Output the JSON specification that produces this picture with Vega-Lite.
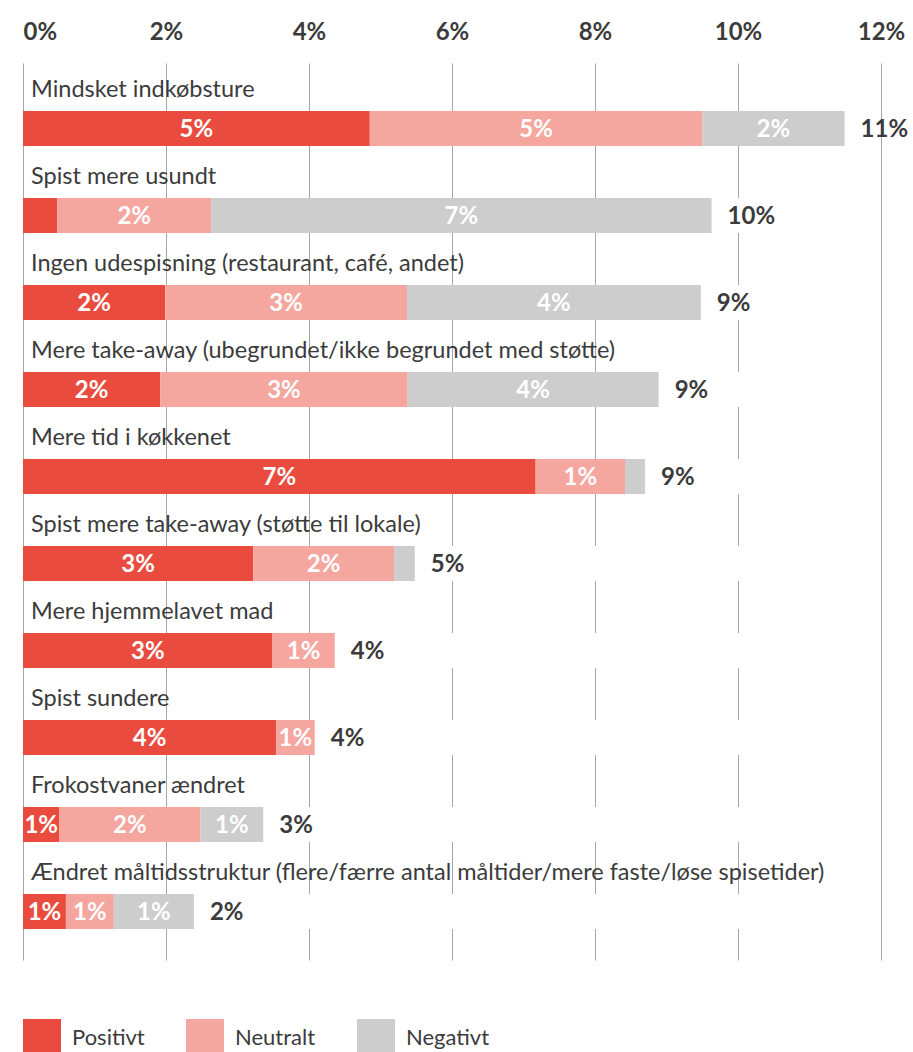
{
  "$schema": "https://vega.github.io/schema/vega-lite/v6.json",
  "autosize": "none",
  "width": 858,
  "height": 897,
  "padding": {"left": 23, "top": 63, "right": 32, "bottom": 92},
  "background": "white",
  "config": {"view": {"stroke": null}, "font": "Lato"},
  "data": {
    "values": [
      {"category": "Mindsket indkøbsture", "type": "Positivt", "order": 1, "value": 0.0485},
      {"category": "Mindsket indkøbsture", "type": "Neutralt", "order": 2, "value": 0.0465},
      {"category": "Mindsket indkøbsture", "type": "Negativt", "order": 3, "value": 0.0199},
      {"category": "Spist mere usundt", "type": "Positivt", "order": 1, "value": 0.0048},
      {"category": "Spist mere usundt", "type": "Neutralt", "order": 2, "value": 0.0215},
      {"category": "Spist mere usundt", "type": "Negativt", "order": 3, "value": 0.07},
      {"category": "Ingen udespisning (restaurant, café, andet)", "type": "Positivt", "order": 1, "value": 0.0199},
      {"category": "Ingen udespisning (restaurant, café, andet)", "type": "Neutralt", "order": 2, "value": 0.0338},
      {"category": "Ingen udespisning (restaurant, café, andet)", "type": "Negativt", "order": 3, "value": 0.0411},
      {"category": "Mere take-away (ubegrundet/ikke begrundet med støtte)", "type": "Positivt", "order": 1, "value": 0.0192},
      {"category": "Mere take-away (ubegrundet/ikke begrundet med støtte)", "type": "Neutralt", "order": 2, "value": 0.0346},
      {"category": "Mere take-away (ubegrundet/ikke begrundet med støtte)", "type": "Negativt", "order": 3, "value": 0.0351},
      {"category": "Mere tid i køkkenet", "type": "Positivt", "order": 1, "value": 0.0717},
      {"category": "Mere tid i køkkenet", "type": "Neutralt", "order": 2, "value": 0.0125},
      {"category": "Mere tid i køkkenet", "type": "Negativt", "order": 3, "value": 0.0028},
      {"category": "Spist mere take-away (støtte til lokale)", "type": "Positivt", "order": 1, "value": 0.0322},
      {"category": "Spist mere take-away (støtte til lokale)", "type": "Neutralt", "order": 2, "value": 0.0197},
      {"category": "Spist mere take-away (støtte til lokale)", "type": "Negativt", "order": 3, "value": 0.0029},
      {"category": "Mere hjemmelavet mad", "type": "Positivt", "order": 1, "value": 0.0349},
      {"category": "Mere hjemmelavet mad", "type": "Neutralt", "order": 2, "value": 0.0087},
      {"category": "Spist sundere", "type": "Positivt", "order": 1, "value": 0.0354},
      {"category": "Spist sundere", "type": "Neutralt", "order": 2, "value": 0.0054},
      {"category": "Frokostvaner ændret", "type": "Positivt", "order": 1, "value": 0.0051},
      {"category": "Frokostvaner ændret", "type": "Neutralt", "order": 2, "value": 0.0197},
      {"category": "Frokostvaner ændret", "type": "Negativt", "order": 3, "value": 0.0088},
      {"category": "Ændret måltidsstruktur (flere/færre antal måltider/mere faste/løse spisetider)", "type": "Positivt", "order": 1, "value": 0.006},
      {"category": "Ændret måltidsstruktur (flere/færre antal måltider/mere faste/løse spisetider)", "type": "Neutralt", "order": 2, "value": 0.0067},
      {"category": "Ændret måltidsstruktur (flere/færre antal måltider/mere faste/løse spisetider)", "type": "Negativt", "order": 3, "value": 0.0112}
    ]
  },
  "encoding": {
    "y": {
      "field": "category",
      "type": "nominal",
      "axis": null,
      "scale": {
        "domain": [
          "Mindsket indkøbsture",
          "Spist mere usundt",
          "Ingen udespisning (restaurant, café, andet)",
          "Mere take-away (ubegrundet/ikke begrundet med støtte)",
          "Mere tid i køkkenet",
          "Spist mere take-away (støtte til lokale)",
          "Mere hjemmelavet mad",
          "Spist sundere",
          "Frokostvaner ændret",
          "Ændret måltidsstruktur (flere/færre antal måltider/mere faste/løse spisetider)"
        ],
        "paddingInner": 0.5977,
        "paddingOuter": 0.454,
        "align": 0.6076
      }
    }
  },
  "layer": [
    {
      "transform": [{"filter": "datum.order == 1"}],
      "mark": {"type": "bar", "color": "white"},
      "encoding": {
        "x": {
          "datum": 0,
          "type": "quantitative",
          "scale": {"domain": [0, 0.12], "nice": false, "zero": true},
          "axis": {
            "orient": "top",
            "title": null,
            "values": [0, 0.02, 0.04, 0.06, 0.08, 0.1, 0.12],
            "format": ".0%",
            "grid": true,
            "gridColor": "#a6a6a6",
            "gridWidth": 1,
            "domain": false,
            "ticks": false,
            "labelFont": "Lato",
            "labelFontSize": 24,
            "labelFontWeight": "bold",
            "labelColor": "#3b3b3b",
            "labelPadding": 19,
            "labelAlign": {"condition": {"test": "datum.value == 0", "value": "left"}, "value": "center"}
          }
        },
        "x2": {"datum": 0.12}
      }
    },
    {
      "mark": {"type": "bar"},
      "encoding": {
        "x": {"field": "value", "type": "quantitative", "stack": "zero"},
        "color": {
          "field": "type",
          "type": "nominal",
          "scale": {"domain": ["Positivt", "Neutralt", "Negativt"], "range": ["#e94c3e", "#f4a69f", "#cdcdcd"]},
          "legend": {
            "orient": "bottom",
            "direction": "horizontal",
            "title": null,
            "symbolType": "square",
            "symbolSize": 1444,
            "symbolStrokeWidth": 0,
            "symbolOpacity": 1,
            "labelFont": "Lato",
            "labelFontSize": 22,
            "labelColor": "#3b3b3b",
            "labelOffset": 11,
            "columnPadding": 41,
            "offset": 59,
            "padding": 0
          }
        },
        "order": {"field": "order", "type": "quantitative"}
      }
    },
    {
      "mark": {"type": "text", "color": "white", "fontWeight": "bold", "fontSize": 24, "baseline": "alphabetic", "dy": 8.5},
      "encoding": {
        "x": {"field": "value", "type": "quantitative", "stack": "zero", "bandPosition": 0.5},
        "detail": {"field": "type", "type": "nominal"},
        "order": {"field": "order", "type": "quantitative"},
        "text": {"condition": {"test": "datum.value < 0.005", "value": ""}, "field": "value", "type": "quantitative", "format": ".0%"}
      }
    },
    {
      "transform": [{"aggregate": [{"op": "sum", "field": "value", "as": "total"}], "groupby": ["category"]}],
      "mark": {"type": "text", "color": "#3b3b3b", "fontWeight": "bold", "fontSize": 24, "align": "left", "baseline": "alphabetic", "dx": 16, "dy": 8.5},
      "encoding": {
        "x": {"field": "total", "type": "quantitative"},
        "text": {"field": "total", "type": "quantitative", "format": ".0%"}
      }
    },
    {
      "transform": [{"filter": "datum.order == 1"}],
      "mark": {"type": "text", "color": "#3b3b3b", "fontSize": 23.5, "align": "left", "baseline": "alphabetic", "dx": 8, "dy": -31.5},
      "encoding": {
        "x": {"datum": 0, "type": "quantitative"},
        "text": {"field": "category", "type": "nominal"}
      }
    }
  ]
}
